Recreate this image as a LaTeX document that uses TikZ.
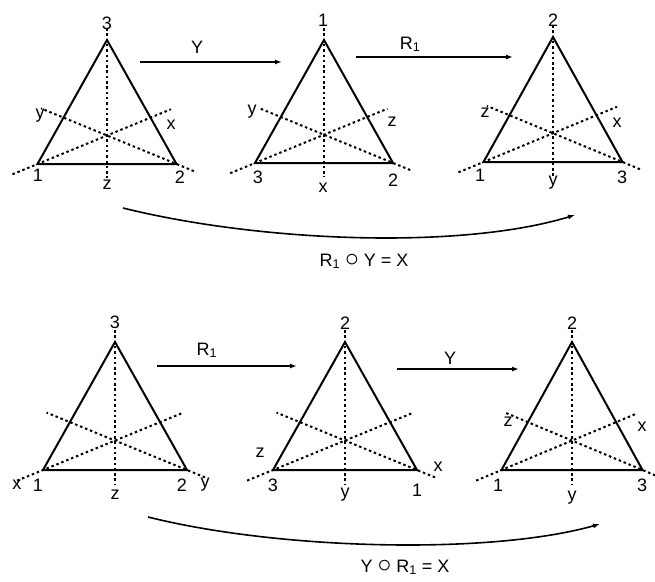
\documentclass[tikz,border=0pt]{standalone}
\usepackage{fontspec}
\setmainfont{Liberation Sans}
\usetikzlibrary{arrows.meta,calc}
\newcommand\compo{\raisebox{0.0em}{\scalebox{1.6}{$\circ$}}}
\newcommand\mytri[5]{%
  \begin{scope}[shift={(#2,#3)}]
    \coordinate (#1a) at (0,0);
    \coordinate (#1l) at (-#4,#5);
    \coordinate (#1r) at (#4,#5);
    \coordinate (#1c) at (0,0.77*#5);
  \end{scope}
  \draw[med] ($(#1l)!-0.36!(#1c)$) -- ($(#1l)!1.92!(#1c)$);
  \draw[med] ($(#1r)!-0.25!(#1c)$) -- ($(#1r)!1.95!(#1c)$);
  \draw[med] ($(#1a)+(0,-12)$) -- ($(#1a)+(0,#5+14)$);
  \draw[side] (#1a) -- (#1l) -- (#1r) -- cycle;
}
\begin{document}
\begin{tikzpicture}[x=1pt,y=-1pt,
  side/.style={line width=2pt, line join=miter},
  med/.style={line width=2pt, dash pattern=on 2.5pt off 2.8pt},
  lab/.style={font=\fontsize{18}{18}\selectfont, inner sep=0pt},
  arr/.style={line width=1.6pt, -{Latex[length=7pt,width=5pt]}},
]
\useasboundingbox (0,0) rectangle (655,581);

% triangles
\mytri{A}{107}{40}{69.5}{124}
\mytri{B}{324}{40}{69}{123}
\mytri{C}{553}{37}{69.5}{125}
\mytri{D}{115}{342}{72}{128}
\mytri{E}{345}{342}{72}{128}
\mytri{F}{572}{342}{70.5}{128}

% labels, triangle A
\node[lab] (A3) at (107,23) {3};
\node[lab] (Ay) at (40,116) {y};
\node[lab] (Ax) at (171,125) {x};
\node[lab] (A1) at (38,175) {1};
\node[lab] (Az) at (107,185) {z};
\node[lab] (A2) at (180,177) {2};
% triangle B
\node[lab] (B1) at (323,20) {1};
\node[lab] (By) at (252,112) {y};
\node[lab] (Bz) at (392,122) {z};
\node[lab] (B3) at (258,177) {3};
\node[lab] (Bx) at (323,188) {x};
\node[lab] (B2) at (393,180) {2};
% triangle C
\node[lab] (C2) at (553,20) {2};
\node[lab] (Cz) at (485,113) {z};
\node[lab] (Cx) at (617,123) {x};
\node[lab] (C1) at (480,175) {1};
\node[lab] (Cy) at (553,183) {y};
\node[lab] (C3) at (622,177) {3};
% triangle D
\node[lab] (D3) at (115,322) {3};
\node[lab] (Dx) at (17,485) {x};
\node[lab] (D1) at (38,485) {1};
\node[lab] (Dz) at (115,495) {z};
\node[lab] (D2) at (182,485) {2};
\node[lab] (Dy) at (205,485) {y};
% triangle E
\node[lab] (E2) at (345,323) {2};
\node[lab] (Ez) at (260,453) {z};
\node[lab] (E3) at (273,485) {3};
\node[lab] (Ey) at (345,495) {y};
\node[lab] (E1) at (417,490) {1};
\node[lab] (Ex) at (438,467) {x};
% triangle F
\node[lab] (F2) at (572,323) {2};
\node[lab] (Fz) at (508,422) {z};
\node[lab] (Fx) at (642,427) {x};
\node[lab] (F1) at (498,485) {1};
\node[lab] (Fy) at (572,498) {y};
\node[lab] (F3) at (642,485) {3};

% straight arrows
\coordinate (p1s) at (140,62);  \coordinate (p1e) at (282,62);
\coordinate (p2s) at (356,57);  \coordinate (p2e) at (513,57);
\coordinate (p3s) at (157,366); \coordinate (p3e) at (297,366);
\coordinate (p4s) at (397,369); \coordinate (p4e) at (519,369);
\draw[arr] (p1s) -- (p1e);
\draw[arr] (p2s) -- (p2e);
\draw[arr] (p3s) -- (p3e);
\draw[arr] (p4s) -- (p4e);
\node[lab, anchor=base] (l1) at (197,53) {Y};
\node[lab, anchor=base] (l2) at (410,49) {R\textsubscript{1}};
\node[lab, anchor=base] (l3) at (207,355) {R\textsubscript{1}};
\node[lab, anchor=base] (l4) at (450,364) {Y};

% curved arrows
\coordinate (c1s) at (123,208); \coordinate (c1e) at (575,215);
\coordinate (c2s) at (148,517); \coordinate (c2e) at (600,524);
\draw[arr] (c1s) .. controls (260,242) and (460,250) .. (c1e);
\draw[arr] (c2s) .. controls (280,550) and (490,555) .. (c2e);
\node[lab, anchor=base] (k1) at (364,266) {R\textsubscript{1} \compo\ Y = X};
\node[lab, anchor=base] (k2) at (405,572) {Y \compo\ R\textsubscript{1} = X};
\end{tikzpicture}
\end{document}
